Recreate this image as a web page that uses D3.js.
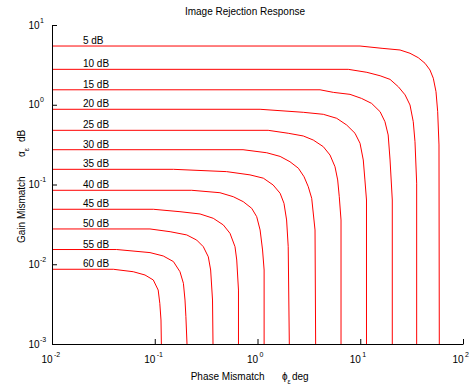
<!DOCTYPE html>
<html>
<head>
<meta charset="utf-8">
<script src="https://cdn.jsdelivr.net/npm/d3@7"></script>
<style>
body { margin: 0; background: #fff; }
text { font-family: "Liberation Sans", Arial, sans-serif; fill: #000; }
</style>
</head>
<body>
<div id="chart"></div>
<script>
// contour labels (image rejection, dB)
var levels = ["5 dB","10 dB","15 dB","20 dB","25 dB","30 dB","35 dB","40 dB","45 dB","50 dB","55 dB","60 dB"];

// each curve: [phase mismatch deg, gain mismatch dB]
var irr5  = [[0.01,5.45],[9.95,5.45],[16.3,5.10],[24.4,4.86],[30.5,4.42],[36.7,3.89],[42.7,3.31],[47.7,2.73],[51.4,2.15],[54.6,1.46],[56.7,0.818],[58.4,0.313],[58.8,0.001]];
var irr10 = [[0.01,2.78],[7.65,2.78],[11.6,2.55],[15.6,2.31],[19.5,2.08],[23.5,1.68],[27.3,1.33],[30.5,0.993],[32.8,0.613],[34.1,0.344],[35.4,0.104],[35.4,0.001]];
var irr15 = [[0.01,1.54],[4.06,1.54],[5.47,1.43],[7.95,1.35],[10.3,1.20],[12.9,1.04],[15.6,0.818],[17.4,0.613],[18.7,0.418],[19.5,0.203],[20.5,0.0639],[20.5,0.001]];
var irr20 = [[0.01,0.877],[1.06,0.877],[2.79,0.804],[4.37,0.759],[5.90,0.676],[7.38,0.557],[8.89,0.439],[9.95,0.329],[10.7,0.203],[11.1,0.114],[11.5,0.0639],[11.5,0.001]];
var irr25 = [[0.01,0.478],[1.27,0.478],[1.99,0.439],[2.79,0.406],[3.49,0.361],[4.37,0.298],[5.08,0.234],[5.68,0.167],[6.03,0.114],[6.25,0.0703],[6.50,0.0359],[6.50,0.001]];
var irr30 = [[0.01,0.273],[0.723,0.273],[1.23,0.250],[1.66,0.225],[2.07,0.193],[2.50,0.160],[2.84,0.125],[3.12,0.0938],[3.37,0.0671],[3.63,0.0269],[3.68,0.001]];
var irr35 = [[0.01,0.155],[0.152,0.155],[0.501,0.145],[0.845,0.132],[1.14,0.120],[1.42,0.0986],[1.66,0.0776],[1.81,0.0581],[1.92,0.0359],[1.99,0.0166],[2.04,0.001]];
var irr40 = [[0.01,0.0846],[0.229,0.0846],[0.431,0.0789],[0.581,0.0703],[0.727,0.0609],[0.878,0.0503],[0.982,0.0395],[1.06,0.0269],[1.12,0.0151],[1.16,0.00847],[1.16,0.001]];
var irr45 = [[0.01,0.0489],[0.0968,0.0489],[0.176,0.0456],[0.276,0.0427],[0.371,0.0377],[0.465,0.0311],[0.540,0.0244],[0.604,0.0166],[0.628,0.0113],[0.653,0.00475],[0.653,0.001]];
var irr50 = [[0.01,0.0277],[0.0899,0.0277],[0.141,0.0256],[0.205,0.0233],[0.256,0.0201],[0.297,0.0166],[0.332,0.0124],[0.350,0.00847],[0.365,0.00356],[0.369,0.001]];
var irr55 = [[0.01,0.0153],[0.0426,0.0153],[0.0899,0.0140],[0.121,0.0127],[0.152,0.0108],[0.176,0.00806],[0.190,0.00577],[0.197,0.00356],[0.201,0.0022],[0.206,0.001]];
var irr60 = [[0.01,0.00865],[0.0395,0.00865],[0.0618,0.00806],[0.0804,0.00733],[0.0968,0.00635],[0.108,0.00475],[0.112,0.00324],[0.115,0.0020],[0.116,0.001]];

var curves = [irr5, irr10, irr15, irr20, irr25, irr30, irr35, irr40, irr45, irr50, irr55, irr60];

var xMajor = [0.01, 0.1, 1, 10, 100];
var yMajor = [0.001, 0.01, 0.1, 1, 10];
var labelPhase = 0.02;

var width = 471, height = 387;

var svg = d3.select("#chart")
    .append("svg")
    .attr("width", width)
    .attr("height", height);

var x = d3.scaleLog().domain([0.01, 100]).range([52, 463]);
var y = d3.scaleLog().domain([0.001, 10]).range([344, 25]);

// curves
var line = d3.line()
    .x(function(d) { return x(d[0]); })
    .y(function(d) { return y(d[1]); });

svg.append("g")
    .selectAll("path")
    .data(curves)
    .enter()
    .append("path")
    .attr("d", line)
    .attr("fill", "none")
    .attr("stroke", "#ff0000")
    .attr("stroke-width", 1);

// curve labels sit just above the flat part
svg.append("g")
    .selectAll("text")
    .data(curves)
    .enter()
    .append("text")
    .attr("x", x(labelPhase))
    .attr("y", function(d) { return y(d[0][1]) - 2; })
    .style("font-size", "10px")
    .text(function(d, i) { return levels[i]; });

// x axis, ticks point inward
var gx = svg.append("g").attr("transform", "translate(0,344)");
gx.call(d3.axisBottom(x).tickValues(x.ticks()).tickSize(-3).tickSizeOuter(0).tickFormat(""));
gx.call(d3.axisBottom(x).tickValues(xMajor).tickSize(-5).tickSizeOuter(0).tickFormat(""));
gx.selectAll("path, line").attr("stroke", "#000");

// y axis
var gy = svg.append("g").attr("transform", "translate(52,0)");
gy.call(d3.axisLeft(y).tickValues(y.ticks()).tickSize(-3).tickSizeOuter(0).tickFormat(""));
gy.call(d3.axisLeft(y).tickValues(yMajor).tickSize(-5).tickSizeOuter(0).tickFormat(""));
gy.selectAll("path, line").attr("stroke", "#000");

function expo(v) { return String(Math.round(Math.log10(v))); }

// tick labels as 10 with a raised exponent
xMajor.forEach(function(v) {
    svg.append("text").attr("x", x(v) + 0.5).attr("y", 363)
        .attr("text-anchor", "end").style("font-size", "10px").text("10");
    svg.append("text").attr("x", x(v) + 2).attr("y", 357)
        .style("font-size", "7px").text(expo(v));
});
yMajor.forEach(function(v) {
    svg.append("text").attr("x", 28.5).attr("y", y(v) + 3.5)
        .style("font-size", "10px").text("10");
    svg.append("text").attr("x", 40).attr("y", y(v) - 2.5)
        .style("font-size", "7px").text(expo(v));
});

// title
svg.append("text")
    .attr("x", 245).attr("y", 15)
    .attr("text-anchor", "middle")
    .style("font-size", "10px")
    .text("Image Rejection Response");

// x label
var xl = svg.append("text").attr("x", 190.7).attr("y", 380).style("font-size", "10px");
xl.append("tspan").text("Phase Mismatch");
xl.append("tspan").attr("x", 282).text("\u03d5");
xl.append("tspan").attr("dy", 3.5).style("font-size", "7px").text("\u03b5");
xl.append("tspan").attr("x", 292).attr("dy", -3.5).text("deg");

// y label, rotated
var yl = svg.append("text")
    .attr("transform", "translate(25,243) rotate(-90)")
    .style("font-size", "10px");
yl.append("tspan").attr("x", 0).text("Gain Mismatch");
yl.append("tspan").attr("x", 86).text("\u03b1");
yl.append("tspan").attr("dy", 3.5).style("font-size", "7px").text("\u03b5");
yl.append("tspan").attr("x", 101).attr("dy", -3.5).text("dB");
</script>
</body>
</html>
